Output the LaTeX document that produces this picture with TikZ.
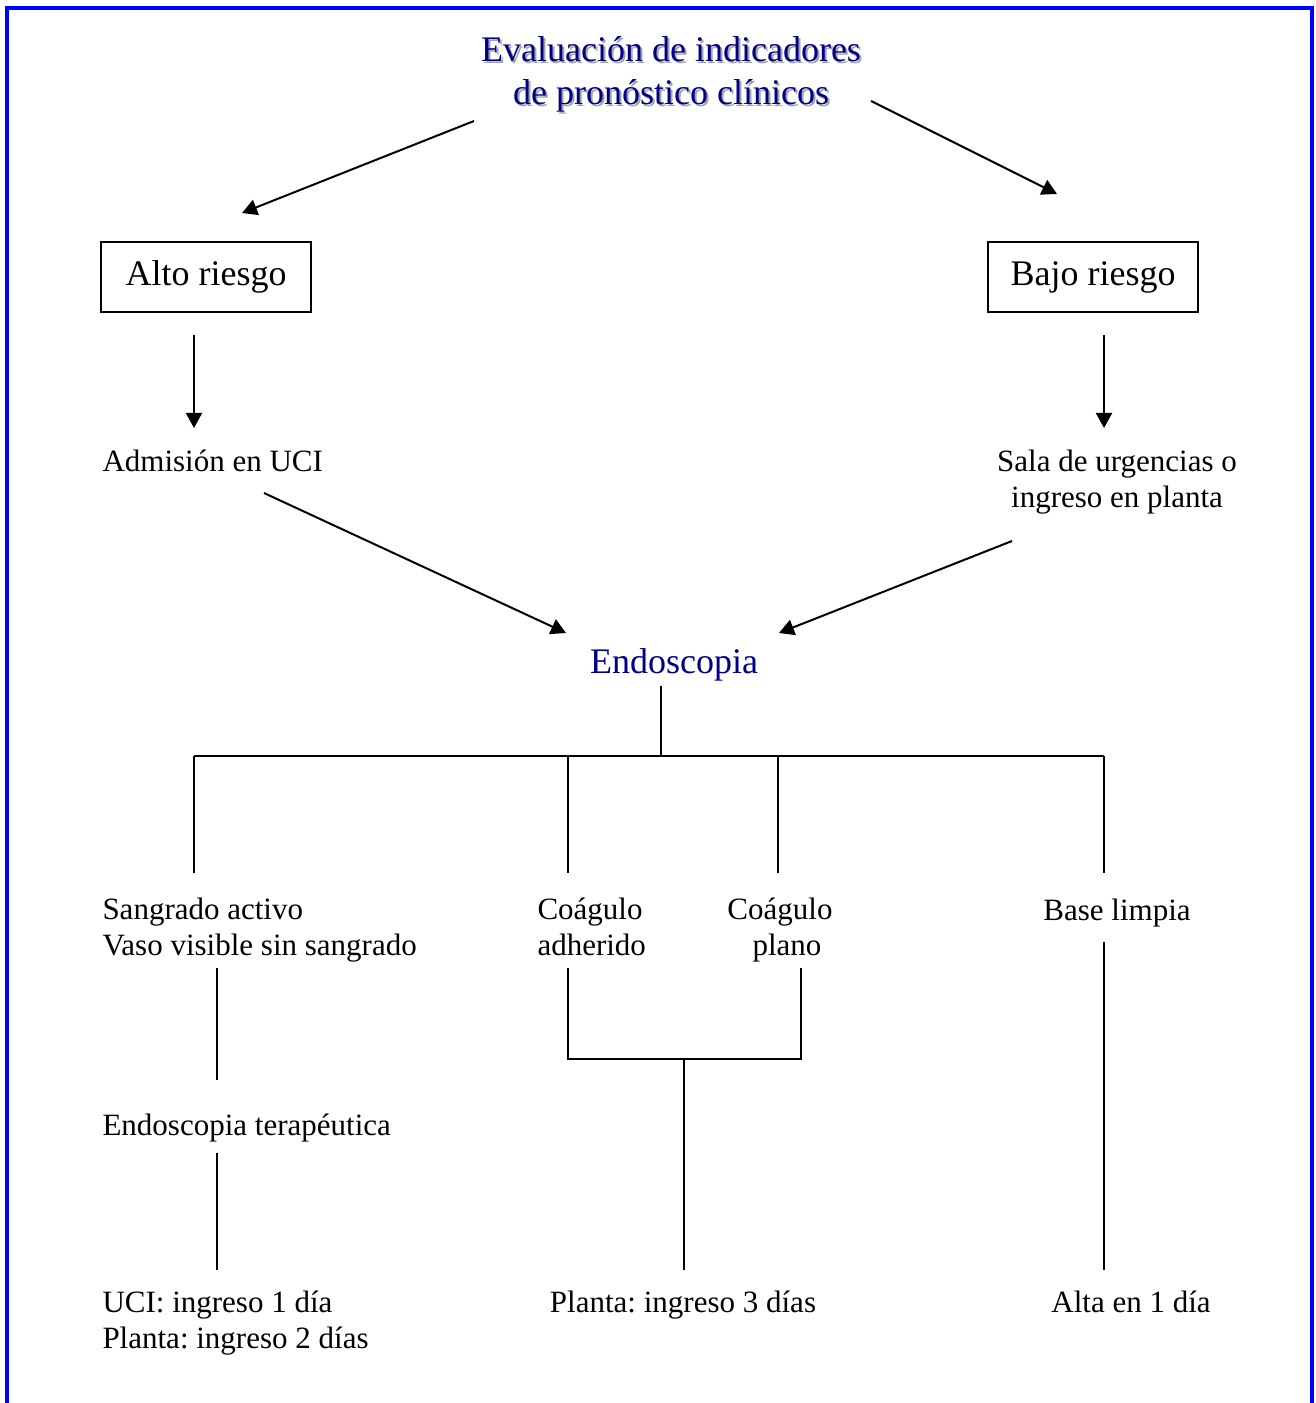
\documentclass[tikz,border=0pt]{standalone}
\usepackage{fontspec}
\setmainfont{Liberation Serif}
\usetikzlibrary{arrows.meta,positioning}
\definecolor{frameblue}{RGB}{0,0,255}
\definecolor{titlenavy}{RGB}{0,0,135}
\definecolor{shadowgray}{RGB}{165,165,165}
\frenchspacing

\begin{document}
\begin{tikzpicture}[
  x=0.4pt, y=-0.4pt, >={Triangle[length=6pt,width=6.4pt]},
  txt/.style={inner sep=0pt, font=\fontsize{12.4}{14.4}\selectfont},
  big/.style={inner sep=0pt, font=\fontsize{14.4}{17.2}\selectfont},
  riskbox/.style={draw, line width=0.7pt, minimum width=84pt, minimum height=28pt, big},
  arrow/.style={->, line width=0.8pt},
  link/.style={line width=0.6pt}
]
\useasboundingbox (0,0) rectangle (1315,1403);

% frame
\draw[frameblue, line width=1.3pt] (7,1410) -- (7,8) -- (1312,8) -- (1312,1410);

% title with shadow (base = last line)
\node[big, align=center, text=shadowgray, anchor=base] (titleshadow) at (673,107) {Evaluación de indicadores\\de pronóstico clínicos};
\node[big, align=center, text=titlenavy, anchor=base] (title) at (671,105) {Evaluación de indicadores\\de pronóstico clínicos};

% risk boxes
\node[riskbox] (alto) at (206,277) {Alto riesgo};
\node[riskbox] (bajo) at (1093,277) {Bajo riesgo};

% destinations
\node[txt, anchor=base west] (uci) at (102,472) {Admisión en UCI};
\node[txt, align=center, anchor=base] (sala) at (1117,508) {Sala de urgencias o\\ingreso en planta};
\node[big, text=titlenavy, anchor=base] (endo) at (674,673) {Endoscopia};

% findings
\node[txt, align=left, anchor=base west] (activo) at (102,955) {Sangrado activo\\Vaso visible sin sangrado};
\node[txt, align=left, anchor=base west] (adherido) at (537,955) {Coágulo\\adherido};
\node[txt, align=center, anchor=base] (plano) at (780,955) {Coágulo\\\hspace*{0.45em}plano};
\node[txt, anchor=base] (limpia) at (1117,920) {Base limpia};
\node[txt, anchor=base west] (terap) at (102,1135) {Endoscopia terapéutica};

% outcomes
\node[txt, align=left, anchor=base west] (out1) at (102,1348) {UCI: ingreso 1 día\\Planta: ingreso 2 días};
\node[txt, anchor=base] (out2) at (683,1312) {Planta: ingreso 3 días};
\node[txt, anchor=base] (out3) at (1131,1312) {Alta en 1 día};

% connector ends
\coordinate (titleL) at (474,121);
\coordinate (titleR) at (871,101);
\coordinate (altoIn) at (242,213);
\coordinate (bajoIn) at (1057,194);
\coordinate (uciOut) at (264,493);
\coordinate (salaOut) at (1012,541);
\coordinate (endoInL) at (566,633);
\coordinate (endoInR) at (779,633);
\coordinate (endoOut) at (661,686);
\coordinate (bus) at (661,756);
\coordinate (clot) at (684,1059);

% arrows
\draw[arrow] (titleL) -- (altoIn);
\draw[arrow] (titleR) -- (bajoIn);
\draw[arrow] (194,335) -- (194,428);
\draw[arrow] (1104,335) -- (1104,428);
\draw[arrow] (uciOut) -- (endoInL);
\draw[arrow] (salaOut) -- (endoInR);

% tree
\draw[link] (endoOut) -- (bus);
\draw[link] (194,756) -- (1104,756);
\foreach \xb in {194,568,778,1104}
  \draw[link] (\xb,756) -- (\xb,873);
\draw[link] (217,968) -- (217,1080);
\draw[link] (217,1153) -- (217,1270);
\draw[link] (568,968) -- (568,1059) -- (801,1059) -- (801,968);
\draw[link] (clot) -- (684,1270);
\draw[link] (1104,942) -- (1104,1270);

\end{tikzpicture}
\end{document}
